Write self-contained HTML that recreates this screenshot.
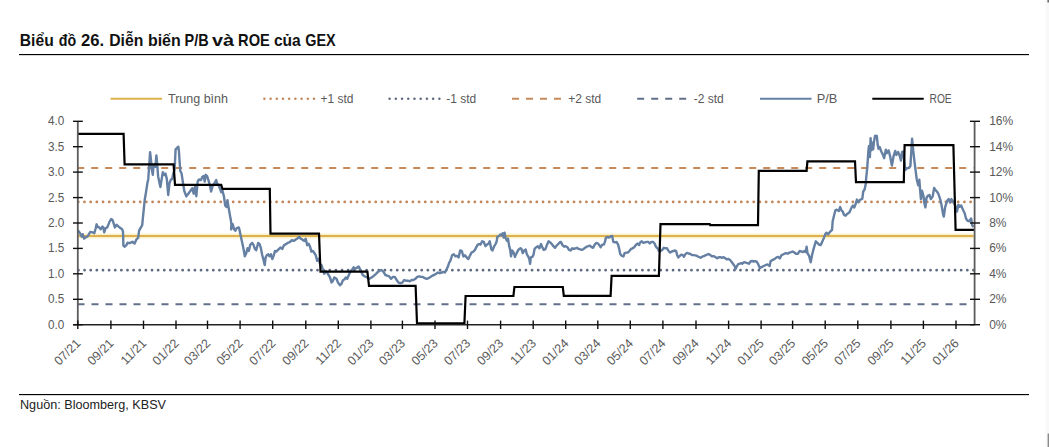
<!DOCTYPE html><html><head><meta charset="utf-8"><style>html,body{margin:0;padding:0;background:#fff;width:1049px;height:447px;overflow:hidden}svg{display:block}text{font-family:"Liberation Sans",sans-serif}</style></head><body>
<svg width="1049" height="447" viewBox="0 0 1049 447">
<text x="19.8" y="46" font-size="17" font-weight="bold" fill="#111" textLength="33.9" lengthAdjust="spacingAndGlyphs">Biểu</text>
<text x="58.7" y="46" font-size="17" font-weight="bold" fill="#111" textLength="17.4" lengthAdjust="spacingAndGlyphs">đồ</text>
<text x="81.0" y="46" font-size="17" font-weight="bold" fill="#111" textLength="23.1" lengthAdjust="spacingAndGlyphs">26.</text>
<text x="109.2" y="46" font-size="17" font-weight="bold" fill="#111" textLength="34.1" lengthAdjust="spacingAndGlyphs">Diễn</text>
<text x="147.9" y="46" font-size="17" font-weight="bold" fill="#111" textLength="32.8" lengthAdjust="spacingAndGlyphs">biến</text>
<text x="184.6" y="46" font-size="17" font-weight="bold" fill="#111" textLength="24.1" lengthAdjust="spacingAndGlyphs">P/B</text>
<text x="212.0" y="46" font-size="17" font-weight="bold" fill="#111" textLength="22.1" lengthAdjust="spacingAndGlyphs">và</text>
<text x="238.1" y="46" font-size="17" font-weight="bold" fill="#111" textLength="31.7" lengthAdjust="spacingAndGlyphs">ROE</text>
<text x="273.9" y="46" font-size="17" font-weight="bold" fill="#111" textLength="26.8" lengthAdjust="spacingAndGlyphs">của</text>
<text x="305.2" y="46" font-size="17" font-weight="bold" fill="#111" textLength="30.4" lengthAdjust="spacingAndGlyphs">GEX</text>
<rect x="19" y="54" width="1010" height="1.15" fill="#000"/>
<line x1="110.5" y1="98.7" x2="162" y2="98.7" stroke="#DDB24E" stroke-width="2"/>
<text x="168" y="102.7" font-size="12" fill="#595959" textLength="60" lengthAdjust="spacingAndGlyphs">Trung bình</text>
<circle cx="264.40" cy="98.8" r="1.25" fill="#C3875A"/>
<circle cx="270.60" cy="98.8" r="1.25" fill="#C3875A"/>
<circle cx="276.80" cy="98.8" r="1.25" fill="#C3875A"/>
<circle cx="283.00" cy="98.8" r="1.25" fill="#C3875A"/>
<circle cx="289.20" cy="98.8" r="1.25" fill="#C3875A"/>
<circle cx="295.40" cy="98.8" r="1.25" fill="#C3875A"/>
<circle cx="301.60" cy="98.8" r="1.25" fill="#C3875A"/>
<circle cx="307.80" cy="98.8" r="1.25" fill="#C3875A"/>
<circle cx="314.00" cy="98.8" r="1.25" fill="#C3875A"/>
<text x="320.5" y="102.7" font-size="12" fill="#595959" textLength="33" lengthAdjust="spacingAndGlyphs">+1 std</text>
<circle cx="389.60" cy="98.8" r="1.25" fill="#5F6B80"/>
<circle cx="395.82" cy="98.8" r="1.25" fill="#5F6B80"/>
<circle cx="402.04" cy="98.8" r="1.25" fill="#5F6B80"/>
<circle cx="408.26" cy="98.8" r="1.25" fill="#5F6B80"/>
<circle cx="414.48" cy="98.8" r="1.25" fill="#5F6B80"/>
<circle cx="420.70" cy="98.8" r="1.25" fill="#5F6B80"/>
<circle cx="426.92" cy="98.8" r="1.25" fill="#5F6B80"/>
<circle cx="433.14" cy="98.8" r="1.25" fill="#5F6B80"/>
<circle cx="439.36" cy="98.8" r="1.25" fill="#5F6B80"/>
<text x="446.3" y="102.7" font-size="12" fill="#595959" textLength="30" lengthAdjust="spacingAndGlyphs">-1 std</text>
<line x1="512" y1="98.8" x2="561" y2="98.8" stroke="#C88A5A" stroke-width="2" stroke-dasharray="7 7"/>
<text x="568.2" y="102.7" font-size="12" fill="#595959" textLength="33" lengthAdjust="spacingAndGlyphs">+2 std</text>
<line x1="637.2" y1="98.8" x2="686.2" y2="98.8" stroke="#63708A" stroke-width="2" stroke-dasharray="7 7"/>
<text x="693.8" y="102.7" font-size="12" fill="#595959" textLength="30" lengthAdjust="spacingAndGlyphs">-2 std</text>
<line x1="760" y1="98.7" x2="811.5" y2="98.7" stroke="#6580A3" stroke-width="2"/>
<text x="816.7" y="102.7" font-size="12" fill="#595959" textLength="20.6" lengthAdjust="spacingAndGlyphs">P/B</text>
<line x1="872.3" y1="98.7" x2="923.7" y2="98.7" stroke="#000" stroke-width="2"/>
<text x="929.5" y="102.7" font-size="12" fill="#595959" textLength="22.2" lengthAdjust="spacingAndGlyphs">ROE</text>
<line x1="77.2" y1="168.0" x2="973.6" y2="168.0" stroke="#C88A5A" stroke-width="2" stroke-dasharray="7 7" stroke-linecap="butt"/>
<line x1="78.2" y1="201.9" x2="973.6" y2="201.9" stroke="#C3875A" stroke-width="2.7" stroke-dasharray="0.1 6.097" stroke-linecap="round"/>
<line x1="78.5" y1="236.1" x2="973.6" y2="236.1" stroke="#FBF1CC" stroke-width="5"/>
<line x1="78.5" y1="236.1" x2="973.6" y2="236.1" stroke="#DDB24E" stroke-width="2"/>
<line x1="78.4" y1="270.2" x2="973.6" y2="270.2" stroke="#5F6B80" stroke-width="2.7" stroke-dasharray="0.1 6.03" stroke-linecap="round"/>
<line x1="77.5" y1="304.3" x2="973.6" y2="304.3" stroke="#63708A" stroke-width="2" stroke-dasharray="7 7" stroke-linecap="butt"/>
<polyline fill="none" stroke="#6580A3" stroke-width="2.4" stroke-linejoin="round" points="77.8,230.1 80.0,233.3 81.8,236.8 82.7,234.2 84.1,238.6 85.8,237.3 87.6,236.4 90.3,231.9 92.6,232.4 94.3,233.3 95.7,228.3 96.6,224.3 97.5,227.0 98.8,227.0 100.6,229.2 102.4,226.6 103.3,227.4 104.2,232.4 105.5,228.3 107.3,227.4 109.6,221.6 111.3,218.9 112.7,220.3 114.9,227.4 116.7,224.8 119.0,227.0 122.1,229.2 123.0,231.5 123.4,245.8 124.8,246.7 126.6,244.9 127.5,242.7 129.7,243.1 132.4,241.8 134.6,243.6 136.4,239.5 138.2,237.7 139.1,230.6 140.9,227.4 142.2,225.2 142.7,219.8 144.7,200.0 146.0,192.3 147.4,183.0 148.3,178.9 149.1,166.8 150.1,152.1 151.0,160.1 151.8,169.5 152.8,174.9 153.4,166.8 154.5,164.2 155.4,166.8 156.4,155.4 157.2,164.2 158.1,176.2 159.5,183.0 160.4,187.0 161.5,180.3 162.8,172.2 164.2,174.9 165.5,173.6 166.8,178.9 168.2,195.0 169.5,183.0 170.9,179.6 172.2,178.9 173.3,173.6 174.6,169.5 175.6,149.4 176.9,148.1 178.3,146.7 178.9,150.7 179.6,161.5 180.3,170.9 181.6,173.6 183.0,183.0 184.3,191.0 186.3,196.4 188.3,193.7 190.3,191.0 192.3,188.3 193.7,193.7 195.0,186.8 196.3,196.2 197.7,181.5 199.0,179.5 201.0,180.1 202.4,176.8 203.7,176.1 204.7,181.5 205.7,174.8 207.1,176.1 208.4,180.1 209.8,184.8 211.1,191.5 212.4,186.8 213.8,184.2 215.1,182.1 216.2,180.1 217.1,183.5 218.5,184.8 219.8,188.2 221.2,192.2 222.5,190.9 223.9,196.2 225.2,205.6 226.5,207.0 227.5,200.3 228.3,205.6 229.2,211.0 230.6,219.1 230.7,218.7 231.4,224.8 231.1,229.4 232.7,224.1 234.1,229.4 235.4,230.8 236.7,228.1 238.8,227.4 239.4,229.4 240.8,236.2 242.1,242.2 243.4,248.2 244.8,256.3 246.1,253.6 247.5,248.2 248.8,250.9 250.2,244.9 252.2,242.9 253.5,244.9 254.9,248.9 256.2,250.3 258.2,242.9 259.6,244.2 260.9,248.2 262.2,255.0 263.6,260.3 264.7,265.0 265.6,257.6 266.9,255.0 268.3,254.3 269.6,256.3 271.0,254.3 272.3,259.0 273.7,255.6 275.0,250.9 276.3,251.6 278.3,249.6 280.4,247.6 282.4,248.9 283.7,245.6 285.7,244.2 287.7,242.9 289.8,242.2 291.8,240.2 293.8,240.9 295.8,239.5 297.8,238.2 299.2,236.8 300.5,238.5 302.1,239.4 304.3,240.9 305.7,238.7 307.2,245.2 308.6,243.7 310.0,246.6 311.4,251.6 312.9,250.9 314.3,253.0 315.7,255.2 317.2,260.9 318.6,258.8 320.0,263.8 321.5,265.2 322.9,269.5 324.3,273.8 325.8,270.9 327.9,273.8 330.0,277.4 331.5,282.4 332.9,280.9 334.3,277.4 336.5,278.8 337.9,282.4 340.1,285.2 341.5,283.8 342.9,280.2 344.3,279.5 345.8,277.4 347.2,278.8 349.4,273.8 350.8,270.9 352.2,269.5 353.6,267.3 355.1,268.8 356.5,268.1 358.7,266.6 360.1,269.5 361.5,272.3 362.9,275.2 365.1,276.6 367.2,277.4 369.4,278.8 371.5,277.4 373.7,275.9 376.0,273.8 377.9,271.9 379.8,270.7 381.6,270.0 383.5,271.9 385.4,275.0 387.3,275.7 389.1,276.3 391.0,278.8 392.9,276.9 394.8,276.9 396.7,280.0 398.5,282.6 400.4,283.2 402.3,282.6 404.2,280.0 406.0,280.7 407.9,280.7 409.8,281.3 411.7,280.0 413.5,280.0 415.4,278.8 417.3,276.9 419.2,276.3 421.1,276.9 422.9,276.9 424.8,278.2 426.7,278.8 428.6,278.2 430.4,276.9 432.3,275.7 434.2,275.0 436.1,273.8 438.0,272.5 439.8,273.2 441.7,272.5 443.6,271.9 444.8,272.5 446.7,269.4 448.0,266.3 449.2,262.5 450.0,261.7 451.1,258.5 452.1,255.3 453.8,254.2 455.4,256.4 457.0,255.8 458.6,257.4 460.2,250.5 461.8,251.0 463.4,256.4 465.0,255.3 466.6,257.4 468.3,259.1 469.9,255.8 471.5,252.6 473.6,251.5 475.2,249.4 477.4,245.1 479.0,244.0 480.6,244.6 482.2,241.3 483.8,241.9 485.4,246.2 487.1,244.6 488.7,243.5 489.7,241.3 491.4,249.4 492.4,250.5 494.0,246.7 495.6,244.0 496.7,241.3 497.3,237.0 498.9,236.0 500.5,234.4 501.6,235.4 502.6,233.3 503.7,237.6 504.6,232.7 505.6,238.1 506.9,240.8 508.0,238.6 509.1,245.6 510.2,249.9 511.0,256.4 512.1,250.5 513.4,252.1 515.0,256.9 516.6,253.1 518.7,249.4 520.4,248.3 521.4,248.9 522.8,253.1 524.1,250.5 525.7,249.4 526.8,254.2 528.1,256.4 529.2,258.5 530.1,263.9 530.8,257.4 532.4,256.9 533.5,254.8 534.6,248.9 536.2,247.2 537.8,246.2 539.4,248.3 541.0,244.0 542.1,246.7 543.7,249.9 545.3,249.4 546.9,245.1 548.6,241.3 550.2,242.4 551.8,244.0 553.4,246.2 555.0,247.8 556.6,245.6 558.2,244.0 559.8,242.4 560.9,241.9 562.5,245.1 564.1,246.7 565.7,246.2 567.4,247.2 569.0,249.9 570.6,250.5 572.2,248.3 573.8,248.9 575.4,248.3 577.0,247.8 578.6,248.9 580.2,249.4 581.9,249.9 583.5,248.9 585.1,247.8 586.7,246.7 588.3,246.2 589.9,245.6 591.5,247.2 593.1,247.8 594.7,244.6 596.4,242.9 598.0,243.5 599.6,245.6 600.7,247.2 602.3,244.6 603.9,244.6 604.9,241.9 605.8,238.1 607.4,237.0 609.0,237.6 610.6,236.5 612.2,236.0 613.3,241.9 614.9,242.4 616.5,241.9 618.1,244.6 619.2,248.9 620.3,254.2 621.9,255.8 623.5,256.4 624.6,253.1 626.2,252.6 627.8,252.6 629.4,251.0 631.0,248.9 632.6,248.3 634.2,247.2 635.8,245.1 637.4,243.5 639.1,245.1 640.1,242.4 641.7,241.3 643.4,242.9 645.0,242.4 646.6,241.9 648.2,241.9 649.8,243.5 651.4,241.9 653.0,241.9 654.6,243.5 655.7,246.2 656.8,247.8 657.9,248.3 658.9,251.0 660.5,251.0 662.2,249.9 663.8,247.8 665.4,248.3 667.0,248.3 668.6,251.0 670.2,252.6 671.8,251.5 673.4,251.0 675.0,250.5 676.1,251.0 677.2,255.3 678.3,257.4 679.6,256.2 681.2,254.6 682.8,255.1 683.9,256.7 685.5,254.0 687.1,252.9 688.7,253.5 690.4,254.0 692.0,255.1 694.1,255.1 696.3,255.6 698.4,256.7 700.6,257.8 702.2,256.7 703.8,256.2 705.9,255.1 708.6,254.0 710.2,255.1 711.8,256.2 714.0,256.2 715.6,257.2 717.2,258.3 718.8,257.2 720.4,257.2 722.0,257.8 723.6,257.2 725.3,258.3 726.9,259.4 728.5,258.9 730.1,259.9 731.7,262.1 733.3,264.2 734.9,266.4 735.5,269.1 736.5,266.9 738.2,264.2 739.8,263.7 741.4,263.1 742.4,263.7 744.1,262.1 745.7,262.6 747.3,263.1 748.9,263.7 750.5,261.5 752.1,261.0 753.7,261.5 755.3,261.2 756.7,261.7 758.3,264.4 759.9,268.2 761.5,267.1 763.7,266.0 765.8,265.0 767.4,264.4 769.6,266.0 770.6,261.2 772.3,260.1 774.4,259.1 776.6,257.4 778.2,256.9 779.8,258.5 781.4,255.3 783.5,254.2 785.7,253.1 787.8,253.7 789.4,252.6 791.1,252.1 792.7,251.5 794.3,252.6 795.9,253.7 798.0,253.7 799.6,251.0 801.3,251.5 802.9,252.1 804.5,251.0 805.6,252.1 806.6,246.7 807.5,253.1 809.3,256.4 810.7,262.3 812.0,255.3 813.6,248.9 815.8,241.3 817.4,242.9 819.0,244.6 820.6,245.1 822.2,241.9 823.8,238.1 825.4,233.8 826.5,232.7 828.1,234.4 829.7,232.2 831.3,230.6 832.0,230.1 832.7,221.1 834.0,215.7 835.4,210.3 836.7,209.7 838.8,211.0 840.1,207.0 841.4,210.3 842.8,211.7 844.1,215.0 845.5,215.7 847.5,213.7 849.5,212.3 851.5,207.6 852.9,205.6 854.2,207.6 855.6,204.3 856.9,199.6 858.2,202.3 860.3,199.6 862.3,198.9 863.2,191.5 864.6,189.5 865.6,184.8 866.2,178.0 867.3,167.2 868.4,150.4 869.0,145.9 869.9,157.1 870.6,138.1 871.4,150.4 872.3,142.6 873.2,149.3 874.0,141.4 875.1,135.8 876.2,137.0 876.8,135.8 877.7,144.8 878.5,148.7 879.6,147.0 881.3,151.5 883.0,154.9 884.1,158.2 885.8,149.8 886.9,153.2 888.6,150.4 890.2,156.6 891.9,165.5 893.6,156.0 895.3,151.0 896.4,154.9 898.1,152.1 899.8,156.0 900.9,160.5 902.0,152.1 903.1,151.5 904.2,160.5 905.4,170.0 907.0,168.3 908.7,167.8 910.4,166.1 911.5,148.2 912.1,138.6 913.2,150.4 914.9,165.0 916.8,179.7 918.2,185.3 919.3,179.7 920.2,190.8 920.9,199.1 922.0,190.8 923.4,195.7 924.4,203.3 925.4,207.4 926.5,197.7 927.9,195.7 929.5,195.0 930.9,199.1 932.7,196.4 934.1,188.0 935.5,190.1 936.9,191.5 938.3,193.6 940.4,199.8 941.7,206.1 943.1,214.4 943.8,216.5 945.2,206.8 947.3,200.5 948.7,199.1 950.1,202.6 951.4,199.1 952.8,201.2 954.2,203.3 955.6,206.8 957.0,211.6 958.4,204.7 959.8,206.8 961.2,205.4 963.2,210.2 964.6,213.0 966.0,218.5 967.4,220.6 968.8,221.3 970.2,219.9 971.1,218.5 972.3,225.5 973.6,226.9"/>
<polyline fill="none" stroke="#000" stroke-width="2.2" stroke-linejoin="miter" points="78.0,133.9 123.6,133.9 124.6,164.4 173.6,164.4 175.0,184.8 221.2,184.8 222.4,188.9 269.8,188.9 270.5,233.6 319.0,233.6 320.5,271.6 367.4,271.6 369.0,285.8 415.6,285.8 417.0,323.3 464.4,323.3 465.6,296.0 513.4,296.0 514.4,287.0 562.8,287.0 563.8,295.8 610.6,295.8 611.6,275.8 658.9,275.8 660.5,224.2 709.8,224.2 710.2,225.2 758.0,225.2 758.8,170.9 806.6,170.9 807.4,161.3 855.0,161.3 856.0,182.2 903.8,182.2 904.6,145.2 953.4,145.2 955.6,229.8 974.6,229.8"/>
<line x1="77.8" y1="121.3" x2="77.8" y2="324.7" stroke="#5c5c5c" stroke-width="1.8"/>
<line x1="974.6" y1="121.3" x2="974.6" y2="324.7" stroke="#5c5c5c" stroke-width="1.8"/>
<line x1="73.3" y1="324.7" x2="974.6" y2="324.7" stroke="#222" stroke-width="1.6"/>
<line x1="73" y1="121.3" x2="82.8" y2="121.3" stroke="#111" stroke-width="1.4"/>
<line x1="970" y1="121.3" x2="980" y2="121.3" stroke="#111" stroke-width="1.4"/>
<text x="64.3" y="125.3" font-size="12" fill="#595959" text-anchor="end" textLength="16.3" lengthAdjust="spacingAndGlyphs">4.0</text>
<text x="989.2" y="125.3" font-size="12" fill="#595959">16%</text>
<line x1="73" y1="146.7" x2="82.8" y2="146.7" stroke="#111" stroke-width="1.4"/>
<line x1="970" y1="146.7" x2="980" y2="146.7" stroke="#111" stroke-width="1.4"/>
<text x="64.3" y="150.7" font-size="12" fill="#595959" text-anchor="end" textLength="16.3" lengthAdjust="spacingAndGlyphs">3.5</text>
<text x="989.2" y="150.7" font-size="12" fill="#595959">14%</text>
<line x1="73" y1="172.1" x2="82.8" y2="172.1" stroke="#111" stroke-width="1.4"/>
<line x1="970" y1="172.1" x2="980" y2="172.1" stroke="#111" stroke-width="1.4"/>
<text x="64.3" y="176.1" font-size="12" fill="#595959" text-anchor="end" textLength="16.3" lengthAdjust="spacingAndGlyphs">3.0</text>
<text x="989.2" y="176.1" font-size="12" fill="#595959">12%</text>
<line x1="73" y1="197.6" x2="82.8" y2="197.6" stroke="#111" stroke-width="1.4"/>
<line x1="970" y1="197.6" x2="980" y2="197.6" stroke="#111" stroke-width="1.4"/>
<text x="64.3" y="201.6" font-size="12" fill="#595959" text-anchor="end" textLength="16.3" lengthAdjust="spacingAndGlyphs">2.5</text>
<text x="989.2" y="201.6" font-size="12" fill="#595959">10%</text>
<line x1="73" y1="223.0" x2="82.8" y2="223.0" stroke="#111" stroke-width="1.4"/>
<line x1="970" y1="223.0" x2="980" y2="223.0" stroke="#111" stroke-width="1.4"/>
<text x="64.3" y="227.0" font-size="12" fill="#595959" text-anchor="end" textLength="16.3" lengthAdjust="spacingAndGlyphs">2.0</text>
<text x="989.2" y="227.0" font-size="12" fill="#595959">8%</text>
<line x1="73" y1="248.4" x2="82.8" y2="248.4" stroke="#111" stroke-width="1.4"/>
<line x1="970" y1="248.4" x2="980" y2="248.4" stroke="#111" stroke-width="1.4"/>
<text x="64.3" y="252.4" font-size="12" fill="#595959" text-anchor="end" textLength="16.3" lengthAdjust="spacingAndGlyphs">1.5</text>
<text x="989.2" y="252.4" font-size="12" fill="#595959">6%</text>
<line x1="73" y1="273.8" x2="82.8" y2="273.8" stroke="#111" stroke-width="1.4"/>
<line x1="970" y1="273.8" x2="980" y2="273.8" stroke="#111" stroke-width="1.4"/>
<text x="64.3" y="277.8" font-size="12" fill="#595959" text-anchor="end" textLength="16.3" lengthAdjust="spacingAndGlyphs">1.0</text>
<text x="989.2" y="277.8" font-size="12" fill="#595959">4%</text>
<line x1="73" y1="299.3" x2="82.8" y2="299.3" stroke="#111" stroke-width="1.4"/>
<line x1="970" y1="299.3" x2="980" y2="299.3" stroke="#111" stroke-width="1.4"/>
<text x="64.3" y="303.3" font-size="12" fill="#595959" text-anchor="end" textLength="16.3" lengthAdjust="spacingAndGlyphs">0.5</text>
<text x="989.2" y="303.3" font-size="12" fill="#595959">2%</text>
<line x1="73" y1="324.7" x2="82.8" y2="324.7" stroke="#111" stroke-width="1.4"/>
<line x1="970" y1="324.7" x2="980" y2="324.7" stroke="#111" stroke-width="1.4"/>
<text x="64.3" y="328.7" font-size="12" fill="#595959" text-anchor="end" textLength="16.3" lengthAdjust="spacingAndGlyphs">0.0</text>
<text x="989.2" y="328.7" font-size="12" fill="#595959">0%</text>
<line x1="77.8" y1="320.6" x2="77.8" y2="329" stroke="#111" stroke-width="1.4"/>
<text x="0" y="0" font-size="12.5" fill="#595959" text-anchor="end" transform="translate(81.4,344) rotate(-45)">07/21</text>
<line x1="110.9" y1="320.6" x2="110.9" y2="329" stroke="#111" stroke-width="1.4"/>
<text x="0" y="0" font-size="12.5" fill="#595959" text-anchor="end" transform="translate(114.5,344) rotate(-45)">09/21</text>
<line x1="143.5" y1="320.6" x2="143.5" y2="329" stroke="#111" stroke-width="1.4"/>
<text x="0" y="0" font-size="12.5" fill="#595959" text-anchor="end" transform="translate(147.1,344) rotate(-45)">11/21</text>
<line x1="176.0" y1="320.6" x2="176.0" y2="329" stroke="#111" stroke-width="1.4"/>
<text x="0" y="0" font-size="12.5" fill="#595959" text-anchor="end" transform="translate(179.6,344) rotate(-45)">01/22</text>
<line x1="207.5" y1="320.6" x2="207.5" y2="329" stroke="#111" stroke-width="1.4"/>
<text x="0" y="0" font-size="12.5" fill="#595959" text-anchor="end" transform="translate(211.1,344) rotate(-45)">03/22</text>
<line x1="240.1" y1="320.6" x2="240.1" y2="329" stroke="#111" stroke-width="1.4"/>
<text x="0" y="0" font-size="12.5" fill="#595959" text-anchor="end" transform="translate(243.7,344) rotate(-45)">05/22</text>
<line x1="272.7" y1="320.6" x2="272.7" y2="329" stroke="#111" stroke-width="1.4"/>
<text x="0" y="0" font-size="12.5" fill="#595959" text-anchor="end" transform="translate(276.3,344) rotate(-45)">07/22</text>
<line x1="305.8" y1="320.6" x2="305.8" y2="329" stroke="#111" stroke-width="1.4"/>
<text x="0" y="0" font-size="12.5" fill="#595959" text-anchor="end" transform="translate(309.4,344) rotate(-45)">09/22</text>
<line x1="338.3" y1="320.6" x2="338.3" y2="329" stroke="#111" stroke-width="1.4"/>
<text x="0" y="0" font-size="12.5" fill="#595959" text-anchor="end" transform="translate(341.9,344) rotate(-45)">11/22</text>
<line x1="370.9" y1="320.6" x2="370.9" y2="329" stroke="#111" stroke-width="1.4"/>
<text x="0" y="0" font-size="12.5" fill="#595959" text-anchor="end" transform="translate(374.5,344) rotate(-45)">01/23</text>
<line x1="402.4" y1="320.6" x2="402.4" y2="329" stroke="#111" stroke-width="1.4"/>
<text x="0" y="0" font-size="12.5" fill="#595959" text-anchor="end" transform="translate(406.0,344) rotate(-45)">03/23</text>
<line x1="435.0" y1="320.6" x2="435.0" y2="329" stroke="#111" stroke-width="1.4"/>
<text x="0" y="0" font-size="12.5" fill="#595959" text-anchor="end" transform="translate(438.6,344) rotate(-45)">05/23</text>
<line x1="467.5" y1="320.6" x2="467.5" y2="329" stroke="#111" stroke-width="1.4"/>
<text x="0" y="0" font-size="12.5" fill="#595959" text-anchor="end" transform="translate(471.1,344) rotate(-45)">07/23</text>
<line x1="500.6" y1="320.6" x2="500.6" y2="329" stroke="#111" stroke-width="1.4"/>
<text x="0" y="0" font-size="12.5" fill="#595959" text-anchor="end" transform="translate(504.2,344) rotate(-45)">09/23</text>
<line x1="533.2" y1="320.6" x2="533.2" y2="329" stroke="#111" stroke-width="1.4"/>
<text x="0" y="0" font-size="12.5" fill="#595959" text-anchor="end" transform="translate(536.8,344) rotate(-45)">11/23</text>
<line x1="565.7" y1="320.6" x2="565.7" y2="329" stroke="#111" stroke-width="1.4"/>
<text x="0" y="0" font-size="12.5" fill="#595959" text-anchor="end" transform="translate(569.3,344) rotate(-45)">01/24</text>
<line x1="597.8" y1="320.6" x2="597.8" y2="329" stroke="#111" stroke-width="1.4"/>
<text x="0" y="0" font-size="12.5" fill="#595959" text-anchor="end" transform="translate(601.4,344) rotate(-45)">03/24</text>
<line x1="630.3" y1="320.6" x2="630.3" y2="329" stroke="#111" stroke-width="1.4"/>
<text x="0" y="0" font-size="12.5" fill="#595959" text-anchor="end" transform="translate(633.9,344) rotate(-45)">05/24</text>
<line x1="662.9" y1="320.6" x2="662.9" y2="329" stroke="#111" stroke-width="1.4"/>
<text x="0" y="0" font-size="12.5" fill="#595959" text-anchor="end" transform="translate(666.5,344) rotate(-45)">07/24</text>
<line x1="696.0" y1="320.6" x2="696.0" y2="329" stroke="#111" stroke-width="1.4"/>
<text x="0" y="0" font-size="12.5" fill="#595959" text-anchor="end" transform="translate(699.6,344) rotate(-45)">09/24</text>
<line x1="728.6" y1="320.6" x2="728.6" y2="329" stroke="#111" stroke-width="1.4"/>
<text x="0" y="0" font-size="12.5" fill="#595959" text-anchor="end" transform="translate(732.2,344) rotate(-45)">11/24</text>
<line x1="761.1" y1="320.6" x2="761.1" y2="329" stroke="#111" stroke-width="1.4"/>
<text x="0" y="0" font-size="12.5" fill="#595959" text-anchor="end" transform="translate(764.7,344) rotate(-45)">01/25</text>
<line x1="792.6" y1="320.6" x2="792.6" y2="329" stroke="#111" stroke-width="1.4"/>
<text x="0" y="0" font-size="12.5" fill="#595959" text-anchor="end" transform="translate(796.2,344) rotate(-45)">03/25</text>
<line x1="825.2" y1="320.6" x2="825.2" y2="329" stroke="#111" stroke-width="1.4"/>
<text x="0" y="0" font-size="12.5" fill="#595959" text-anchor="end" transform="translate(828.8,344) rotate(-45)">05/25</text>
<line x1="857.8" y1="320.6" x2="857.8" y2="329" stroke="#111" stroke-width="1.4"/>
<text x="0" y="0" font-size="12.5" fill="#595959" text-anchor="end" transform="translate(861.4,344) rotate(-45)">07/25</text>
<line x1="890.9" y1="320.6" x2="890.9" y2="329" stroke="#111" stroke-width="1.4"/>
<text x="0" y="0" font-size="12.5" fill="#595959" text-anchor="end" transform="translate(894.5,344) rotate(-45)">09/25</text>
<line x1="923.4" y1="320.6" x2="923.4" y2="329" stroke="#111" stroke-width="1.4"/>
<text x="0" y="0" font-size="12.5" fill="#595959" text-anchor="end" transform="translate(927.0,344) rotate(-45)">11/25</text>
<line x1="956.0" y1="320.6" x2="956.0" y2="329" stroke="#111" stroke-width="1.4"/>
<text x="0" y="0" font-size="12.5" fill="#595959" text-anchor="end" transform="translate(959.6,344) rotate(-45)">01/26</text>
<rect x="19" y="394" width="1010" height="1.15" fill="#000"/>
<text x="20" y="409.2" font-size="12.5" fill="#222" textLength="146" lengthAdjust="spacingAndGlyphs">Nguồn: Bloomberg, KBSV</text>
<rect x="1045.6" y="0" width="3.4" height="447" fill="#f8f8f8"/>
<rect x="1047.6" y="433.5" width="1.4" height="13.5" fill="#8a8a8a"/>
<rect x="1047.4" y="0" width="1.6" height="2.5" fill="#707070"/>
</svg></body></html>
